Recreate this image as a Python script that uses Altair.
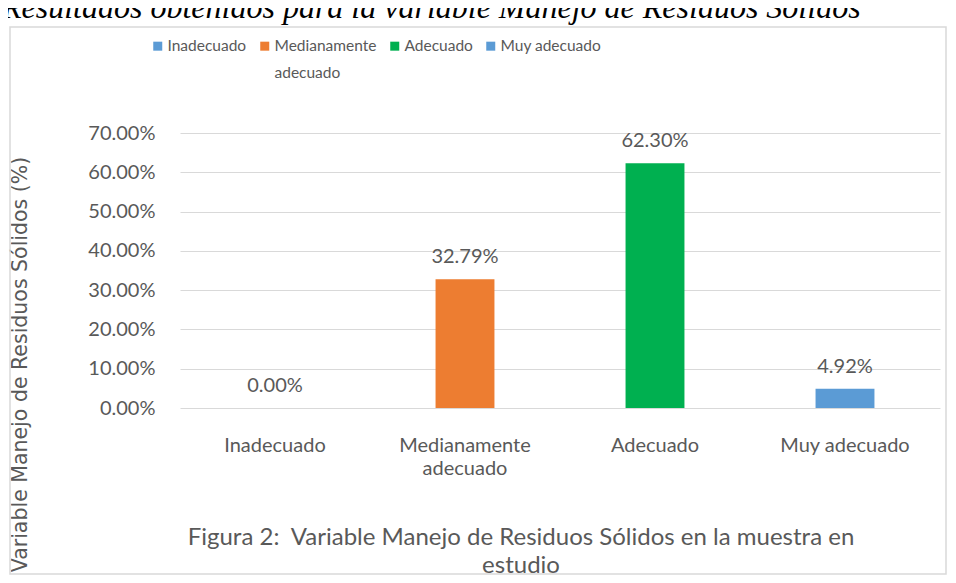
import altair as alt
import pandas as pd

categories = ["Inadecuado", "Medianamente adecuado", "Adecuado", "Muy adecuado"]
values = [0.0, 0.3279, 0.6230, 0.0492]
colors = ["#5B9BD5", "#ED7D31", "#00B050", "#5B9BD5"]
y_ticks = [0.0, 0.1, 0.2, 0.3, 0.4, 0.5, 0.6, 0.7]
title_text = "Resultados obtenidos para la variable Manejo de Residuos Sólidos"
caption_text = "Figura 2:\u00a0 Variable Manejo de Residuos Sólidos en la muestra en\nestudio"
y_title = "Variable Manejo de Residuos Sólidos (%)"

df = pd.DataFrame({"categoria": categories, "valor": values})
one = pd.DataFrame({"a": [0]})

wrap = "datum.label == 'Medianamente adecuado' ? ['Medianamente', 'adecuado'] : datum.label"
wrap_legend = "datum.label == 'Medianamente adecuado' ? ['Medianamente', 'adecuado'] : [datum.label, '']"
GRAY = "#595959"

x = alt.X(
    "categoria:N", sort=categories,
    scale=alt.Scale(paddingInner=0.69, paddingOuter=0.345),
    axis=alt.Axis(title=None, labelAngle=0, labelExpr=wrap, labelFont="Lato",
                  labelFontSize=20, labelColor=GRAY, labelPadding=27,
                  labelLineHeight=23, ticks=False, domain=False, grid=False),
)
y = alt.Y(
    "valor:Q",
    scale=alt.Scale(domain=[0, 0.7], nice=False),
    axis=alt.Axis(values=y_ticks, format=".2%", title=y_title, titleX=-160, titleY=231,
                  titleAngle=-90, titleAlign="center", titleBaseline="middle",
                  titleFont="DejaVu Sans", titleFontSize=20.5, titleFontWeight="normal",
                  titleColor=GRAY, labelFont="Lato", labelFontSize=20, labelColor=GRAY,
                  labelPadding=25, ticks=False, domain=False, grid=True,
                  gridColor="#d9d9d9", gridWidth=1),
)

border = alt.Chart(one).mark_rect(fillOpacity=0, stroke="#d9d9d9", strokeWidth=1.5).encode(
    x=alt.value(-170), x2=alt.value(766), y=alt.value(-106), y2=alt.value(441)
)

bars = alt.Chart(df).mark_bar().encode(
    x=x, y=y,
    color=alt.Color(
        "categoria:N",
        scale=alt.Scale(domain=categories, range=colors),
        legend=alt.Legend(orient="none", legendX=-30, legendY=-90, direction="horizontal",
                          columns=4, title=None, symbolType="M-1,-2.1H1V-0.1H-1Z",
                          symbolSize=81, symbolStrokeWidth=0, labelFont="Lato",
                          labelFontSize=15.5, labelColor=GRAY, columnPadding=10,
                          labelOffset=2, labelBaseline="alphabetic",
                          labelExpr=wrap_legend, labelLimit=300, padding=0),
    ),
)

labels = alt.Chart(df).mark_text(dy=-22, font="Lato", fontSize=20, color=GRAY).encode(
    x=x, y=y, text=alt.Text("valor:Q", format=".2%")
)

title = alt.Chart(one).mark_text(
    text=title_text, font="Liberation Serif", fontStyle="italic", fontSize=32,
    align="left", baseline="alphabetic", color="#000000"
).encode(x=alt.value(-178), y=alt.value(-115))

caption = alt.Chart(one).mark_text(
    text=caption_text, font="Lato", fontSize=24, align="center", baseline="alphabetic",
    lineBreak="\n", lineHeight=28, color=GRAY
).encode(x=alt.value(341), y=alt.value(412))

chart = alt.layer(border, bars, labels, title, caption).properties(
    width=760, height=275,
    padding={"left": 172, "top": 125, "right": 8, "bottom": 167},
    autosize=alt.AutoSizeParams(type="none"),
    background="white",
).configure(
    view={"stroke": "transparent"},
    style={"guide-label": {"lineHeight": 27}},
)

chart.save("out.html", embed_options={"renderer": "svg", "actions": False})
